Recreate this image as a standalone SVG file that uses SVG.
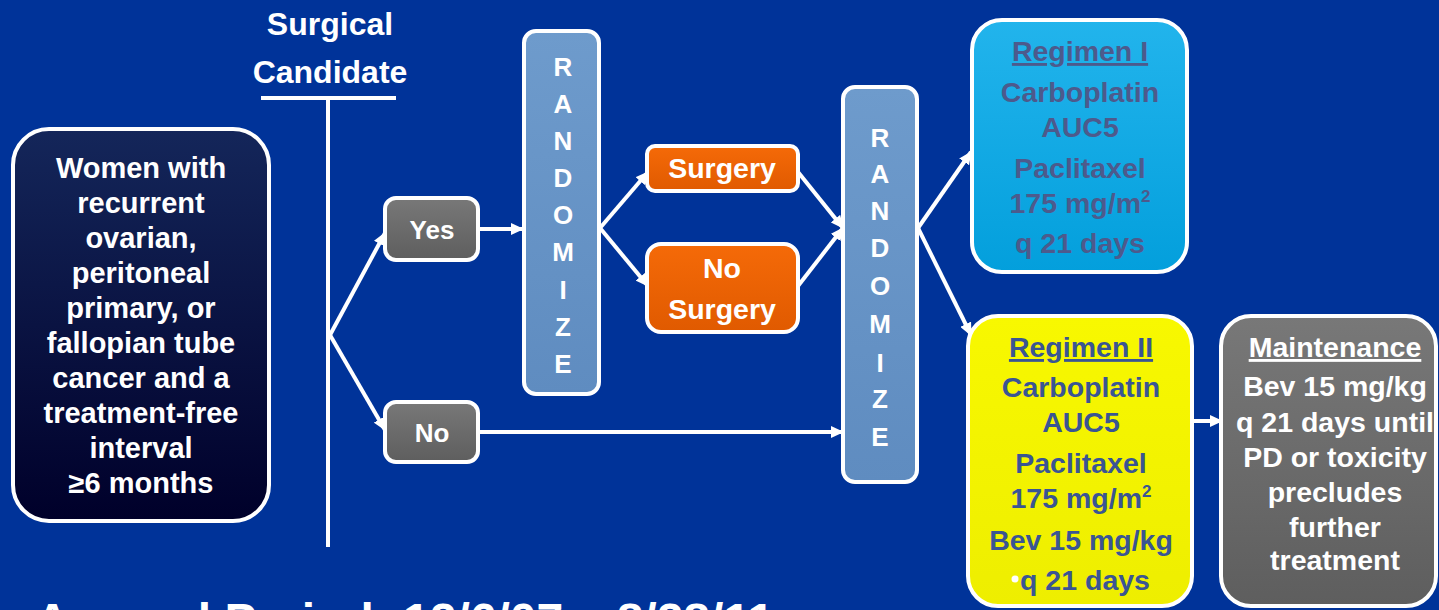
<svg xmlns="http://www.w3.org/2000/svg" width="1439" height="610" viewBox="0 0 1439 610">
<defs>
<linearGradient id="gNavy" x1="0" y1="0" x2="0" y2="1"><stop offset="0" stop-color="#14265a"/><stop offset="1" stop-color="#00002a"/></linearGradient>
<linearGradient id="gRand" x1="0" y1="0" x2="0" y2="1"><stop offset="0" stop-color="#6e9bcc"/><stop offset="1" stop-color="#5f8cc0"/></linearGradient>
<linearGradient id="gGray" x1="0" y1="0" x2="0" y2="1"><stop offset="0" stop-color="#787878"/><stop offset="1" stop-color="#5e5e5e"/></linearGradient>
<linearGradient id="gOrange" x1="0" y1="0" x2="0" y2="1"><stop offset="0" stop-color="#f56a08"/><stop offset="1" stop-color="#e05a00"/></linearGradient>
<linearGradient id="gCyan" x1="0" y1="0" x2="0" y2="1"><stop offset="0" stop-color="#22b4ec"/><stop offset="1" stop-color="#039fdc"/></linearGradient>
<linearGradient id="gYellow" x1="0" y1="0" x2="0" y2="1"><stop offset="0" stop-color="#f8f800"/><stop offset="1" stop-color="#eeee00"/></linearGradient>
<marker id="arr" markerUnits="userSpaceOnUse" markerWidth="14" markerHeight="12" refX="12" refY="6" orient="auto"><path d="M0,0 L13,6 L0,12 z" fill="#ffffff"/></marker>
<style>
.bg{fill:#003399}
.box{stroke:#ffffff;stroke-width:4}
.t{font-family:"Liberation Sans",Arial,sans-serif;font-weight:bold;text-anchor:middle}
.w{fill:#ffffff}
.lt{font-size:28.5px}
.pl{font-size:29px}
.rl{font-size:26px}
.c1{fill:#4d5a8c}
.c2{fill:#3a5593}
.con{stroke:#ffffff;stroke-width:4;fill:none}
.conA{stroke:#ffffff;stroke-width:4;fill:none;marker-end:url(#arr)}
.u{text-decoration:underline}
</style>
</defs>
<rect class="bg" x="0" y="0" width="1439" height="610"/>

<g id="surgical-candidate">
<text class="t w" x="330" y="35" font-size="32">Surgical</text>
<text class="t w" x="330" y="83" font-size="32">Candidate</text>
</g>

<g id="connectors">
<line class="con" x1="261" y1="98" x2="396" y2="98"/>
<line class="con" x1="328" y1="98" x2="328" y2="547"/>
<line class="conA" x1="330" y1="335" x2="385" y2="233"/>
<line class="conA" x1="330" y1="335" x2="385" y2="430"/>
<line class="conA" x1="478" y1="229" x2="523" y2="229"/>
<line class="conA" x1="600" y1="228" x2="648" y2="172"/>
<line class="conA" x1="600" y1="228" x2="648" y2="286"/>
<line class="conA" x1="798" y1="172" x2="843" y2="228"/>
<line class="conA" x1="798" y1="286" x2="843" y2="228"/>
<line class="conA" x1="478" y1="432" x2="843" y2="432"/>
<line class="conA" x1="918" y1="228" x2="971" y2="152"/>
<line class="conA" x1="918" y1="228" x2="971" y2="335"/>
<line class="conA" x1="1193" y1="421" x2="1222" y2="421"/>
</g>

<g id="population">
<rect class="box" x="13" y="129" width="256" height="392" rx="36" fill="url(#gNavy)"/>
<text class="t w pl" x="141" y="178">Women with</text>
<text class="t w pl" x="141" y="213">recurrent</text>
<text class="t w pl" x="141" y="248">ovarian,</text>
<text class="t w pl" x="141" y="283">peritoneal</text>
<text class="t w pl" x="141" y="318">primary, or</text>
<text class="t w pl" x="141" y="353">fallopian tube</text>
<text class="t w pl" x="141" y="388">cancer and a</text>
<text class="t w pl" x="141" y="423">treatment-free</text>
<text class="t w pl" x="141" y="458">interval</text>
<text class="t w pl" x="141" y="493">≥6 months</text>
</g>

<g id="yes">
<rect class="box" x="385" y="198" width="93" height="62" rx="11" fill="url(#gGray)"/>
<text class="t w" x="432" y="239" font-size="26">Yes</text>
</g>

<g id="no">
<rect class="box" x="385" y="402" width="93" height="60" rx="11" fill="url(#gGray)"/>
<text class="t w" x="432" y="442" font-size="26">No</text>
</g>

<g id="randomize-1">
<rect class="box" x="524" y="31" width="75" height="363" rx="12" fill="url(#gRand)"/>
<text class="t w rl" x="563" y="76">R</text>
<text class="t w rl" x="563" y="113">A</text>
<text class="t w rl" x="563" y="150">N</text>
<text class="t w rl" x="563" y="187">D</text>
<text class="t w rl" x="563" y="224">O</text>
<text class="t w rl" x="563" y="261">M</text>
<text class="t w rl" x="563" y="299">I</text>
<text class="t w rl" x="563" y="336">Z</text>
<text class="t w rl" x="563" y="373">E</text>
</g>

<g id="surgery">
<rect class="box" x="647" y="146" width="151" height="45" rx="8" fill="url(#gOrange)"/>
<text class="t w lt" x="722" y="178">Surgery</text>
</g>

<g id="no-surgery">
<rect class="box" x="647" y="244" width="151" height="88" rx="14" fill="url(#gOrange)"/>
<text class="t w lt" x="722" y="278">No</text>
<text class="t w lt" x="722" y="319">Surgery</text>
</g>

<g id="randomize-2">
<rect class="box" x="843" y="87" width="74" height="395" rx="12" fill="url(#gRand)"/>
<text class="t w rl" x="880" y="147">R</text>
<text class="t w rl" x="880" y="183">A</text>
<text class="t w rl" x="880" y="220">N</text>
<text class="t w rl" x="880" y="257">D</text>
<text class="t w rl" x="880" y="295">O</text>
<text class="t w rl" x="880" y="333">M</text>
<text class="t w rl" x="880" y="372">I</text>
<text class="t w rl" x="880" y="408">Z</text>
<text class="t w rl" x="880" y="446">E</text>
</g>

<g id="regimen-1">
<rect class="box" x="972" y="20" width="215" height="252" rx="30" fill="url(#gCyan)"/>
<text class="t c1 lt u" x="1080" y="61">Regimen I</text>
<text class="t c1 lt" x="1080" y="102">Carboplatin</text>
<text class="t c1 lt" x="1080" y="137">AUC5</text>
<text class="t c1 lt" x="1080" y="178">Paclitaxel</text>
<text class="t c1 lt" x="1080" y="213">175 mg/m<tspan font-size="17" dy="-11">2</tspan></text>
<text class="t c1 lt" x="1080" y="253">q 21 days</text>
</g>

<g id="regimen-2">
<rect class="box" x="968" y="316" width="224" height="290" rx="30" fill="url(#gYellow)"/>
<text class="t c2 lt u" x="1081" y="357">Regimen II</text>
<text class="t c2 lt" x="1081" y="397">Carboplatin</text>
<text class="t c2 lt" x="1081" y="432">AUC5</text>
<text class="t c2 lt" x="1081" y="473">Paclitaxel</text>
<text class="t c2 lt" x="1081" y="508">175 mg/m<tspan font-size="17" dy="-11">2</tspan></text>
<text class="t c2 lt" x="1081" y="550">Bev 15 mg/kg</text>
<text class="t c2 lt" x="1085" y="590">q 21 days</text>
<circle cx="1015" cy="579" r="3.5" fill="#ffffff"/>
</g>

<g id="maintenance">
<rect class="box" x="1221" y="316" width="215" height="290" rx="30" fill="url(#gGray)"/>
<text class="t w lt u" x="1335" y="357">Maintenance</text>
<text class="t w lt" x="1335" y="396">Bev 15 mg/kg</text>
<text class="t w lt" x="1335" y="432">q 21 days until</text>
<text class="t w lt" x="1335" y="467">PD or toxicity</text>
<text class="t w lt" x="1335" y="502">precludes</text>
<text class="t w lt" x="1335" y="537">further</text>
<text class="t w lt" x="1335" y="570">treatment</text>
</g>

<g id="accrual">
<text class="t w" x="35" y="637" font-size="48" style="text-anchor:start">Accrual Period: 12/6/07 – 8/28/11</text>
</g>
</svg>
